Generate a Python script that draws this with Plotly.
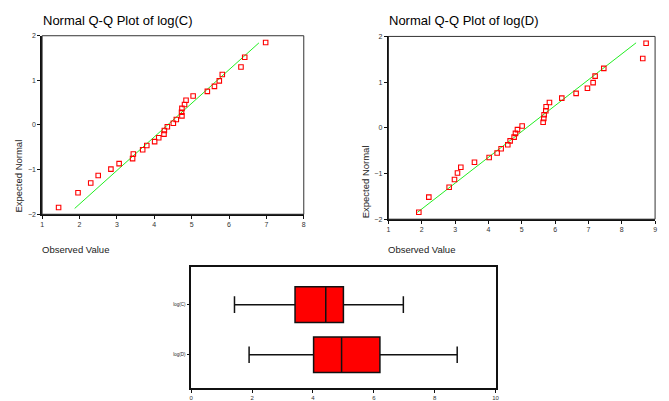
import plotly.graph_objects as go

# ---- data ----
expected_normal = [-1.849, -1.518, -1.300, -1.131, -0.989, -0.865, -0.753, -0.650, -0.553, -0.460,
                   -0.372, -0.287, -0.204, -0.122, -0.040, 0.040, 0.122, 0.204, 0.287, 0.372,
                   0.460, 0.553, 0.650, 0.753, 0.865, 0.989, 1.131, 1.300, 1.518, 1.849]
c_observed = [1.44, 1.96, 2.30, 2.50, 2.84, 3.06, 3.42, 3.44, 3.69, 3.80,
              4.01, 4.12, 4.26, 4.27, 4.35, 4.51, 4.59, 4.74, 4.73, 4.74,
              4.81, 4.85, 5.04, 5.42, 5.61, 5.74, 5.82, 6.32, 6.42, 6.98]
d_observed = [1.91, 2.21, 2.82, 2.98, 3.07, 3.17, 3.58, 4.02, 4.26, 4.38,
              4.58, 4.65, 4.77, 4.81, 4.87, 5.01, 5.64, 5.66, 5.67, 5.72,
              5.73, 5.83, 6.20, 6.63, 6.97, 7.14, 7.20, 7.46, 8.63, 8.73]
c_line_x = [1.87, 6.80]
c_line_y = [-1.87, 1.84]
d_line_x = [1.87, 8.43]
d_line_y = [-1.85, 1.86]

box_names = ["log(C)", "log(D)"]
box_min = [1.42, 1.90]
box_q1 = [3.41, 4.02]
box_median = [4.42, 4.94]
box_q3 = [5.00, 6.20]
box_max = [6.97, 8.74]

qq_x_ticks_c = [1, 2, 3, 4, 5, 6, 7, 8]
qq_x_ticks_d = [1, 2, 3, 4, 5, 6, 7, 8, 9]
qq_y_ticks = [-2, -1, 0, 1, 2]
box_x_ticks = [0, 2, 4, 6, 8, 10]

W, H = 669, 401
FONT = "Liberation Sans, Arial, sans-serif"
RED = "#ff0000"
GREEN = "#22ee22"


def px_x(p):
    return p / W


def px_y(p):
    return 1 - p / H


fig = go.Figure()

# Left QQ plot
fig.add_trace(go.Scatter(x=c_line_x, y=c_line_y, mode="lines",
                         line=dict(color=GREEN, width=1), xaxis="x", yaxis="y", showlegend=False))
fig.add_trace(go.Scatter(x=c_observed, y=expected_normal, mode="markers",
                         marker=dict(symbol="square-open", size=4.5, color=RED, line=dict(width=1.1, color=RED)),
                         xaxis="x", yaxis="y", showlegend=False))
# Right QQ plot
fig.add_trace(go.Scatter(x=d_line_x, y=d_line_y, mode="lines",
                         line=dict(color=GREEN, width=1), xaxis="x2", yaxis="y2", showlegend=False))
fig.add_trace(go.Scatter(x=d_observed, y=expected_normal, mode="markers",
                         marker=dict(symbol="square-open", size=4.5, color=RED, line=dict(width=1.1, color=RED)),
                         xaxis="x2", yaxis="y2", showlegend=False))
# Box plot
fig.add_trace(go.Box(y=box_names, q1=box_q1, median=box_median, q3=box_q3,
                     lowerfence=box_min, upperfence=box_max, orientation="h",
                     fillcolor=RED, line=dict(color="#111111", width=1.5),
                     width=0.71, whiskerwidth=0.47, boxpoints=False,
                     xaxis="x3", yaxis="y3", showlegend=False))

tickfont = dict(family=FONT, size=7, color="#333333")
common_axis = dict(showgrid=False, zeroline=False, showline=True, linecolor="#111111",
                   linewidth=1.5, ticks="outside", ticklen=3, tickwidth=1, tickcolor="#111111",
                   tickfont=tickfont)

fig.update_layout(
    width=W, height=H,
    margin=dict(l=0, r=0, t=0, b=0),
    paper_bgcolor="white", plot_bgcolor="white",
    font=dict(family=FONT),
    xaxis=dict(domain=[px_x(40.5), px_x(304.5)], range=[1, 8], tickvals=qq_x_ticks_c,
               anchor="y", **common_axis),
    yaxis=dict(domain=[px_y(214), px_y(32.3)], range=[-2, 2], tickvals=qq_y_ticks,
               anchor="x", **common_axis),
    xaxis2=dict(domain=[px_x(390), px_x(659)], range=[1, 9], tickvals=qq_x_ticks_d,
                anchor="y2", **common_axis),
    yaxis2=dict(domain=[px_y(219), px_y(33)], range=[-2, 2], tickvals=qq_y_ticks,
                anchor="x2", **common_axis),
    xaxis3=dict(domain=[px_x(191), px_x(498)], range=[0, 10], tickvals=box_x_ticks,
                anchor="y3", mirror=True,
                **{k: v for k, v in common_axis.items() if k != "tickfont"},
                tickfont=dict(family=FONT, size=6, color="#333333")),
    yaxis3=dict(domain=[px_y(391), px_y(268)], type="category",
                categoryarray=["log(D)", "log(C)"], range=[-0.667, 1.745],
                anchor="x3", mirror=True,
                **{k: v for k, v in common_axis.items() if k != "tickfont"},
                tickfont=dict(family=FONT, size=4.5, color="#222222")),
)

# thin frames on top/right of QQ plots
for xr, yr in (("x domain", "y domain"), ("x2 domain", "y2 domain")):
    fig.add_shape(type="rect", xref=xr, yref=yr, x0=0, x1=1, y0=0, y1=1,
                  line=dict(color="#333333", width=1), fillcolor="rgba(0,0,0,0)", layer="above")

ann = []
ann.append(dict(text="Normal Q-Q Plot of log(C)", x=px_x(39), y=px_y(17), xref="paper", yref="paper",
                xanchor="left", yanchor="middle", showarrow=False,
                font=dict(family=FONT, size=13, color="#000000")))
ann.append(dict(text="Normal Q-Q Plot of log(D)", x=px_x(388), y=px_y(17), xref="paper", yref="paper",
                xanchor="left", yanchor="middle", showarrow=False,
                font=dict(family=FONT, size=13, color="#000000")))
for xl, yb in ((17, 214), (367, 220)):
    ann.append(dict(text="Expected Normal", x=px_x(xl), y=px_y(yb), xref="paper", yref="paper",
                    xanchor="center", yanchor="bottom", textangle=-90, showarrow=False,
                    font=dict(family=FONT, size=9.5, color="#222222")))
for xl in (38, 387):
    ann.append(dict(text="Observed Value", x=px_x(xl), y=px_y(250), xref="paper", yref="paper",
                    xanchor="left", yanchor="middle", showarrow=False,
                    font=dict(family=FONT, size=9.5, color="#222222")))
fig.update_layout(annotations=ann)

fig.write_html("out.html")
